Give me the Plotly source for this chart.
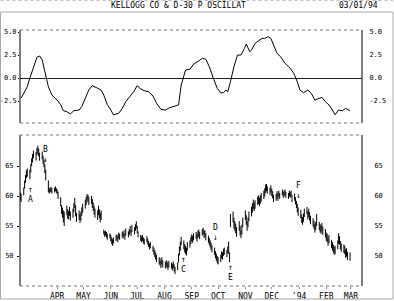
import pandas as pd
import plotly.graph_objects as go

# ---------------- data ----------------
title_text = "KELLOGG CO & D-30 P OSCILLAT"
date_text = "03/01/94"

# daily high / low price bars (trading days starting 1993-02-18)
high = [
    60.6, 60.4, 61.4, 62.6, 63.5, 64.3, 64.6, 64.4, 65.3, 66.3,
    67.0, 67.6, 67.3, 68.0, 68.4, 67.9, 67.2, 67.4, 66.7, 66.1,
    65.3, 64.4, 62.6, 61.3, 61.4, 61.5, 61.3, 61.4, 61.6, 61.3,
    61.1, 60.7, 59.8, 58.5, 58.1, 57.6, 57.4, 58.4, 57.8,
    57.5, 58.2, 57.4, 57.9, 58.8, 59.7, 58.5, 57.2, 57.6, 57.0,
    57.4, 58.1, 58.7, 59.4, 59.9, 60.3, 60.2, 59.9, 60.0, 59.5,
    58.9, 58.4, 57.9, 57.6, 58.4, 57.8, 57.2, 57.6, 54.4, 54.1,
    54.2, 54.0, 53.7, 53.8, 53.5, 53.1, 52.8, 53.1, 53.5,
    53.6, 53.3, 53.9, 53.7, 54.1, 53.9, 54.3, 53.7, 54.6, 54.1,
    54.5, 55.0, 54.3, 55.2, 54.8, 55.3, 55.8, 55.0, 54.1, 53.5,
    53.3, 53.5, 53.1, 52.9, 53.3, 52.9, 52.5, 52.1, 52.3, 51.7,
    51.4, 51.0, 50.6, 50.2, 49.8, 49.6, 49.2, 49.8, 49.3,
    49.0, 49.3, 49.1, 48.8, 49.2, 48.9, 48.7, 49.1, 48.6, 48.2,
    48.9, 50.4, 51.6, 52.4, 53.2, 52.6, 52.0, 51.7, 51.4, 52.3,
    52.6, 53.2, 53.6, 53.4, 53.8, 54.0, 53.6, 54.2, 54.4, 54.0,
    54.5, 54.7, 54.2, 54.3, 53.8, 53.4, 53.0, 52.6, 52.2,
    51.8, 51.4, 50.8, 50.4, 50.0, 49.8, 50.2, 50.8, 50.6, 51.2,
    51.4, 51.0, 51.6, 52.4, 50.6, 57.0, 57.4, 56.4, 55.8, 55.4,
    54.8, 55.8, 55.0, 54.2, 55.2, 56.4, 57.6, 56.8, 55.8, 56.4,
    57.4, 58.2, 58.8, 59.4, 58.9, 59.3, 59.9, 60.1, 59.7,
    60.1, 60.5, 60.9, 61.3, 61.9, 62.0, 61.6, 61.4, 61.8, 61.2,
    60.8, 60.2, 60.4, 60.8, 60.4, 60.9, 60.5, 61.1, 60.7, 60.9,
    61.1, 60.7, 60.5, 60.9, 60.7, 60.9, 60.2, 60.4, 59.8, 59.2,
    58.7, 58.1, 57.7, 56.9, 56.5, 57.1, 57.9, 58.2, 57.5,
    57.9, 57.3, 56.7, 56.3, 55.9, 55.3, 55.7, 57.0, 55.7, 55.3,
    55.1, 55.5, 54.9, 54.5, 53.9, 53.7, 53.1, 53.5, 52.7, 52.3,
    51.9, 51.5, 51.7, 52.6, 53.8, 53.3, 52.5, 52.1, 51.9,
    51.7, 51.1, 51.3, 50.7, 50.6,
]
low = [
    59.3, 59.0, 60.1, 61.2, 62.2, 63.0, 63.2, 62.8, 63.9, 65.0,
    65.6, 66.3, 65.9, 66.8, 67.1, 66.6, 65.9, 66.1, 65.3, 64.8,
    63.8, 62.6, 60.6, 60.4, 60.6, 60.7, 60.4, 60.6, 60.8, 60.5,
    60.3, 59.5, 58.3, 57.0, 56.4, 55.6, 55.0, 56.8, 56.2,
    56.1, 56.7, 55.9, 56.4, 57.3, 58.0, 56.6, 55.7, 56.0, 55.5,
    55.9, 56.7, 57.2, 57.9, 58.5, 59.2, 58.9, 58.5, 58.7, 58.0,
    57.5, 56.9, 56.4, 56.0, 56.8, 56.3, 55.6, 56.0, 53.6, 53.2,
    53.4, 53.1, 52.7, 52.9, 52.4, 52.0, 51.7, 52.1, 52.5,
    52.7, 52.3, 52.9, 52.7, 53.1, 52.9, 53.3, 52.7, 53.4, 53.1,
    53.5, 53.8, 53.3, 54.0, 53.6, 54.2, 54.6, 53.8, 53.1, 52.5,
    52.3, 52.5, 52.1, 51.9, 52.3, 51.9, 51.5, 51.1, 51.3, 50.7,
    50.2, 49.8, 49.4, 49.0, 48.6, 48.4, 48.0, 48.6, 48.1,
    47.9, 48.2, 48.0, 47.7, 48.1, 47.9, 47.6, 48.0, 47.4, 47.0,
    47.6, 48.9, 50.1, 50.9, 51.8, 51.1, 50.6, 50.3, 50.1, 50.9,
    51.4, 52.0, 52.4, 52.2, 52.6, 52.8, 52.4, 53.0, 53.2, 52.8,
    53.4, 53.6, 53.0, 53.2, 52.6, 52.2, 51.8, 51.4, 51.0,
    50.6, 50.2, 49.6, 49.2, 48.8, 48.6, 49.0, 49.6, 49.4, 50.0,
    50.2, 49.8, 50.4, 50.4, 49.0, 54.8, 55.6, 54.6, 54.2, 53.8,
    53.2, 54.2, 53.4, 53.0, 53.6, 54.8, 56.0, 55.2, 54.2, 54.8,
    55.8, 56.6, 57.2, 57.8, 57.5, 57.9, 58.5, 58.7, 58.3,
    58.7, 59.1, 59.5, 59.9, 60.5, 60.8, 60.4, 60.2, 60.6, 60.0,
    59.6, 59.0, 59.2, 59.6, 59.2, 59.9, 59.5, 60.1, 59.7, 59.9,
    60.1, 59.7, 59.5, 59.9, 59.7, 59.9, 59.0, 59.2, 58.6, 58.0,
    57.3, 56.7, 56.3, 55.5, 55.2, 55.7, 56.5, 57.0, 56.1,
    56.5, 55.9, 55.3, 54.9, 54.5, 53.9, 54.3, 55.0, 54.3, 53.9,
    53.7, 54.1, 53.5, 53.1, 52.5, 52.3, 51.7, 52.1, 51.3, 50.9,
    50.5, 50.2, 50.3, 51.1, 52.0, 51.9, 51.1, 50.7, 50.5,
    50.3, 49.7, 49.9, 49.3, 49.2,
]
price_start = "1993-02-18"

# D-30 P oscillator readings
osc_dates = [
    "1993-02-19", "1993-02-26", "1993-03-01", "1993-03-05", "1993-03-09",
    "1993-03-12", "1993-03-15", "1993-03-18", "1993-03-22", "1993-03-26",
    "1993-04-01", "1993-04-05", "1993-04-08", "1993-04-12", "1993-04-16",
    "1993-04-20", "1993-04-26", "1993-04-29", "1993-05-03", "1993-05-07",
    "1993-05-11", "1993-05-17", "1993-05-21", "1993-05-24", "1993-05-28",
    "1993-06-01", "1993-06-04", "1993-06-10", "1993-06-14", "1993-06-18",
    "1993-06-23", "1993-06-27", "1993-07-01", "1993-07-04", "1993-07-09",
    "1993-07-14", "1993-07-19", "1993-07-23", "1993-07-28", "1993-08-02",
    "1993-08-07", "1993-08-12", "1993-08-17", "1993-08-20", "1993-08-25",
    "1993-08-30", "1993-09-03", "1993-09-09", "1993-09-13", "1993-09-17",
    "1993-09-21", "1993-09-26", "1993-09-30", "1993-10-04", "1993-10-07",
    "1993-10-10", "1993-10-12", "1993-10-15", "1993-10-19", "1993-10-23",
    "1993-10-27", "1993-10-31", "1993-11-02", "1993-11-06", "1993-11-08",
    "1993-11-12", "1993-11-16", "1993-11-20", "1993-11-23", "1993-11-27",
    "1993-11-30", "1993-12-03", "1993-12-07", "1993-12-11", "1993-12-16",
    "1993-12-22", "1993-12-26", "1993-12-30", "1994-01-02", "1994-01-06",
    "1994-01-11", "1994-01-15", "1994-01-19", "1994-01-24", "1994-01-27",
    "1994-01-31", "1994-02-04", "1994-02-08", "1994-02-11", "1994-02-15",
    "1994-02-19", "1994-02-23", "1994-02-26", "1994-02-28",
]
osc_values = [
    -2.2, -0.95, 0.0, 1.23, 2.25,
    2.4, 1.96, 0.7, -0.95, -1.85,
    -2.4, -2.9, -3.55, -3.66, -3.9,
    -3.55, -3.48, -3.1, -2.2, -1.3,
    -0.83, -1.12, -1.3, -1.85, -2.9,
    -3.48, -4.0, -3.84, -3.3, -2.57,
    -1.96, -1.49, -0.83, -1.12, -1.38,
    -1.49, -1.96, -2.75, -3.4, -3.48,
    -3.22, -3.04, -2.93, -0.76, 0.87,
    0.95, 1.5, 1.85, 2.15, 2.05,
    1.23, -0.14, -1.12, -1.6, -1.6,
    -1.3, -1.49, -0.4, 1.23, 2.5,
    2.5, 3.23, 3.7, 2.86, 3.04,
    3.77, 4.05, 4.31, 4.31, 4.49,
    4.31, 3.59, 2.68, 2.32, 1.6,
    1.05, 0.51, -0.4, -1.3, -1.6,
    -1.3, -1.67, -2.4, -2.2, -2.1,
    -2.57, -2.93, -3.48, -4.0, -3.48,
    -3.55, -3.3, -3.4, -3.55,
]

# signal marks on the price chart
sig_labels = ["A", "B", "C", "D", "E", "F"]
sig_dates = ["1993-03-02", "1993-03-19", "1993-08-23", "1993-09-28", "1993-10-15", "1993-12-31"]
sig_prices = [62.0, 65.2, 50.3, 52.2, 49.0, 59.2]
sig_below = [True, False, True, False, True, False]

month_ticks = ["1993-04-01", "1993-05-01", "1993-06-01", "1993-07-01", "1993-08-01",
               "1993-09-01", "1993-10-01", "1993-11-01", "1993-12-01", "1994-01-01",
               "1994-02-01", "1994-03-01"]
month_labels = ["APR", "MAY", "JUN", "JUL", "AUG", "SEP", "OCT", "NOV", "DEC", "'94", "FEB", "MAR"]

osc_ticks = [5.0, 2.5, 0.0, -2.5]
price_ticks = [50, 55, 60, 65]

# ---------------- figure ----------------
FONT = "DejaVu Sans Mono"
dates = pd.bdate_range(price_start, periods=len(high))

bx, by = [], []
for d, h, l in zip(dates, high, low):
    bx += [d, d, None]
    by += [l, h, None]

fig = go.Figure()
fig.add_trace(go.Scatter(x=osc_dates, y=osc_values, mode="lines",
                         line=dict(color="black", width=1), xaxis="x", yaxis="y",
                         hoverinfo="skip", showlegend=False))
fig.add_trace(go.Scatter(x=osc_dates, y=osc_values, mode="lines", opacity=0,
                         xaxis="x", yaxis="y3", hoverinfo="skip", showlegend=False))
fig.add_trace(go.Scatter(x=bx, y=by, mode="lines",
                         line=dict(color="black", width=1), xaxis="x2", yaxis="y2",
                         hoverinfo="skip", showlegend=False))
fig.add_trace(go.Scatter(x=bx, y=by, mode="lines", opacity=0,
                         xaxis="x2", yaxis="y4", hoverinfo="skip", showlegend=False))

xr = ["1993-02-17 18:00", "1994-03-13 14:00"]
top_dom = [0.6367, 1.0]
bot_dom = [0.0, 0.5898]
tickfont = dict(family=FONT, size=7, color="black")

fig.update_layout(
    width=394, height=301, autosize=False,
    margin=dict(l=20, r=32, t=30, b=15, autoexpand=False),
    paper_bgcolor="white", plot_bgcolor="white",
    font=dict(family=FONT, size=8, color="black"),
    xaxis=dict(domain=[0, 1], anchor="y", type="date", range=xr, automargin=False,
               showticklabels=False, showgrid=False, zeroline=False, ticks=""),
    xaxis2=dict(domain=[0, 1], anchor="y2", type="date", range=xr, matches="x",
                automargin=False, showgrid=False, zeroline=False, ticks="outside",
                ticklen=2, tickcolor="#888", tickvals=month_ticks, ticktext=month_labels,
                tickfont=dict(family=FONT, size=8, color="black")),
    yaxis=dict(domain=top_dom, range=[-4.89, 5.22], tickvals=osc_ticks, automargin=False,
               ticktext=[f"{v:.1f}" for v in osc_ticks], showgrid=False,
               zeroline=True, zerolinecolor="#222", zerolinewidth=1,
               ticks="outside", ticklen=1, tickcolor="black", tickfont=tickfont,
               ticklabelstandoff=0),
    yaxis3=dict(overlaying="y", side="right", anchor="x", range=[-4.89, 5.22],
                automargin=False, tickvals=osc_ticks,
                ticktext=[f"{v:.1f}" for v in osc_ticks],
                showgrid=False, zeroline=False, ticks="outside", ticklen=5,
                tickcolor="white", tickfont=tickfont),
    yaxis2=dict(domain=bot_dom, anchor="x2", range=[45.0, 70.17], tickvals=price_ticks,
                automargin=False, showgrid=False, zeroline=False, ticks="outside",
                ticklen=2, tickcolor="black", tickfont=tickfont, ticklabelstandoff=2),
    yaxis4=dict(overlaying="y2", side="right", anchor="x2", range=[45.0, 70.17],
                automargin=False, tickvals=price_ticks, showgrid=False, zeroline=False,
                ticks="outside", ticklen=10, tickcolor="white", tickfont=tickfont),
)

# panel frames: solid sides, dotted top/bottom
for xr_, yr_ in (("x domain", "y domain"), ("x2 domain", "y2 domain")):
    fig.add_shape(type="line", xref=xr_, yref=yr_, x0=0, x1=0, y0=0, y1=1,
                  line=dict(color="black", width=1))
    fig.add_shape(type="line", xref=xr_, yref=yr_, x0=1, x1=1, y0=0, y1=1,
                  line=dict(color="black", width=1))
    for yy in (0, 1):
        fig.add_shape(type="line", xref=xr_, yref=yr_, x0=0, x1=1, y0=yy, y1=yy,
                      line=dict(color="#777", width=1, dash="dot"))

# outer window frame and header rule
fig.add_shape(type="rect", xref="paper", yref="paper", x0=-0.0570, x1=1.0906,
              y0=-0.0508, y1=1.0703, line=dict(color="#aaa", width=1))
fig.add_shape(type="line", xref="paper", yref="paper", x0=-0.0570, x1=1.0906,
              y0=1.115, y1=1.115, line=dict(color="#bbb", width=1, dash="dot"))

fig.add_annotation(text=title_text, xref="paper", yref="paper", x=0.462, y=1.094,
                   showarrow=False, xanchor="center", yanchor="middle",
                   font=dict(family=FONT, size=8, color="black"))
fig.add_annotation(text=date_text, xref="paper", yref="paper", x=1.053, y=1.094,
                   showarrow=False, xanchor="right", yanchor="middle",
                   font=dict(family=FONT, size=8, color="black"))

for lab, d, p, below in zip(sig_labels, sig_dates, sig_prices, sig_below):
    txt = f"↑<br>{lab}" if below else f"{lab}<br>↓"
    fig.add_annotation(text=txt, x=d, y=p, xref="x2", yref="y2", showarrow=False,
                       xanchor="center", yanchor="top" if below else "bottom",
                       font=dict(family=FONT, size=8, color="black"),
                       borderpad=0)

fig.write_html("out.html")
